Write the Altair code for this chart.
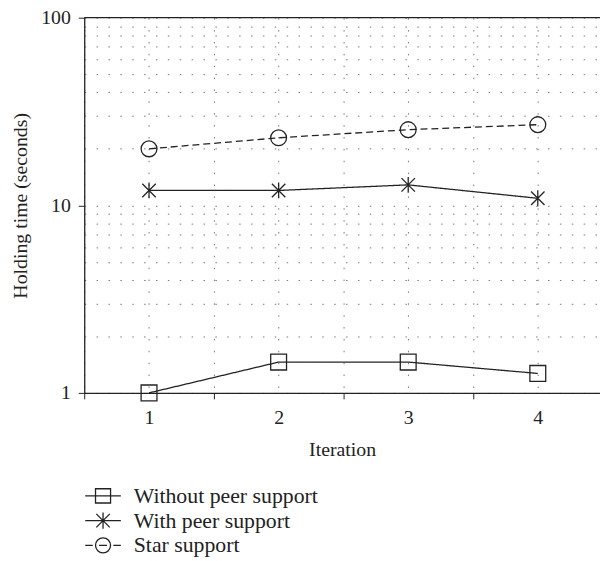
import altair as alt
import pandas as pd

iterations = [1, 2, 3, 4]
without_peer = [1.0, 1.46, 1.46, 1.27]
with_peer = [12.0, 12.0, 12.85, 10.9]
star_support = [20.0, 22.9, 25.3, 26.9]
series_names = ["Without peer support", "With peer support", "Star support"]

x_grid_values = [0.5, 1, 1.5, 2, 2.5, 3, 3.5, 4]
y_grid_values = [1, 2, 3, 4, 5, 6, 7, 8, 9, 10, 20, 30, 40, 50, 60, 70, 80, 90, 100]
top_value = [100]

rows = []
for name, vals in zip(series_names, [without_peer, with_peer, star_support]):
    for it, v in zip(iterations, vals):
        rows.append({"iteration": it, "value": v, "series": name})
df = pd.DataFrame(rows)

FONT = "Liberation Serif"
INK = "#222222"
FS = 20

chart_paths = [
    "M-1,-1H1V1H-1Z",
    "M0,-1V1M-0.85,-0.85L0.85,0.85M-0.85,0.85L0.85,-0.85",
    "M1,0A1,1,0,1,1,-1,0A1,1,0,1,1,1,0Z",
]
legend_paths = [
    "M-1.8,0H1.8M-0.76,-0.72H0.76V0.72H-0.76Z",
    "M-1.8,0H1.8M0,-0.83V0.83M-0.68,-0.68L0.68,0.68M-0.68,0.68L0.68,-0.68",
    "M-1.8,0H-1.04M1.04,0H1.8M0.76,0A0.76,0.76,0,1,1,-0.76,0A0.76,0.76,0,1,1,0.76,0M-0.4,0H0.4",
]

x_enc = alt.X(
    "iteration:Q",
    scale=alt.Scale(domain=[0.5, 4.48], nice=False, zero=False),
    axis=alt.Axis(
        title="Iteration",
        values=x_grid_values,
        labelExpr="datum.value % 1 == 0 ? format(datum.value, 'd') : ''",
        labelOverlap=False,
        grid=True,
        gridDash=[1.5, 10.5],
        gridColor="#777777",
        gridWidth=1,
        tickSize=6,
        tickColor=INK,
        tickOpacity={"condition": {"test": "datum.value % 1 != 0", "value": 1}, "value": 0},
        domainColor=INK,
        domainWidth=1.3,
        labelPadding=9,
        titlePadding=12,
        labelFont=FONT,
        labelFontSize=FS,
        labelColor=INK,
        titleFont=FONT,
        titleFontSize=FS,
        titleFontWeight="normal",
        titleColor=INK,
    ),
)
y_enc = alt.Y(
    "value:Q",
    scale=alt.Scale(type="log", domain=[1, 100], nice=False),
    axis=alt.Axis(
        title="Holding time (seconds)",
        values=y_grid_values,
        labelExpr="(datum.value == 1 || datum.value == 10 || datum.value == 100) ? format(datum.value, 'd') : ''",
        labelOverlap=False,
        grid=True,
        gridDash=[1.5, 10.5],
        gridColor="#777777",
        gridWidth=1,
        tickSize=6,
        tickColor=INK,
        tickOpacity={"condition": {"test": "datum.value == 1 || datum.value == 10 || datum.value == 100", "value": 1}, "value": 0},
        domainColor=INK,
        domainWidth=1.3,
        labelPadding=8,
        titlePadding=10,
        labelFont=FONT,
        labelFontSize=FS,
        labelColor=INK,
        titleFont=FONT,
        titleFontSize=FS,
        titleFontWeight="normal",
        titleColor=INK,
    ),
)

base = alt.Chart(df)

lines = base.mark_line(color=INK, strokeWidth=1.3).encode(
    x=x_enc,
    y=y_enc,
    detail="series:N",
    strokeDash=alt.StrokeDash(
        "series:N",
        scale=alt.Scale(domain=series_names, range=[[1, 0], [1, 0], [7, 4]]),
        legend=None,
    ),
)

points = base.mark_point(filled=False, color=INK, strokeWidth=1.3, size=256, opacity=1).encode(
    x=x_enc,
    y=y_enc,
    shape=alt.Shape(
        "series:N",
        scale=alt.Scale(domain=series_names, range=chart_paths),
        legend=None,
    ),
)

legend_layer = base.mark_point(filled=False, color=INK, strokeWidth=1.3, opacity=1).transform_filter(
    "false"
).encode(
    x=x_enc,
    y=y_enc,
    shape=alt.Shape(
        "series:N",
        scale=alt.Scale(domain=series_names, range=legend_paths),
        legend=alt.Legend(
            title=None,
            orient="none",
            legendX=8,
            legendY=472,
            symbolSize=400,
            symbolStrokeColor=INK,
            symbolStrokeWidth=1.3,
            symbolFillColor="transparent",
            symbolOpacity=1,
            labelFont=FONT,
            labelFontSize=22,
            labelColor=INK,
            labelOffset=20,
            labelLimit=400,
            rowPadding=3,
            padding=0,
        ),
    ),
)

top_rule = alt.Chart(pd.DataFrame({"top": top_value})).mark_rule(color=INK, strokeWidth=1.3).encode(
    y=alt.Y("top:Q", scale=alt.Scale(type="log", domain=[1, 100], nice=False))
)

chart = (
    alt.layer(lines, points, legend_layer, top_rule)
    .resolve_scale(shape="independent")
    .properties(
        width=521,
        height=379,
        autosize=alt.AutoSizeParams(type="none"),
        padding={"left": 77, "top": 7, "right": 0, "bottom": 168},
        background="white",
    )
    .configure_view(stroke=None)
)

chart.save("out.html", embed_options={"renderer": "svg", "actions": False})
